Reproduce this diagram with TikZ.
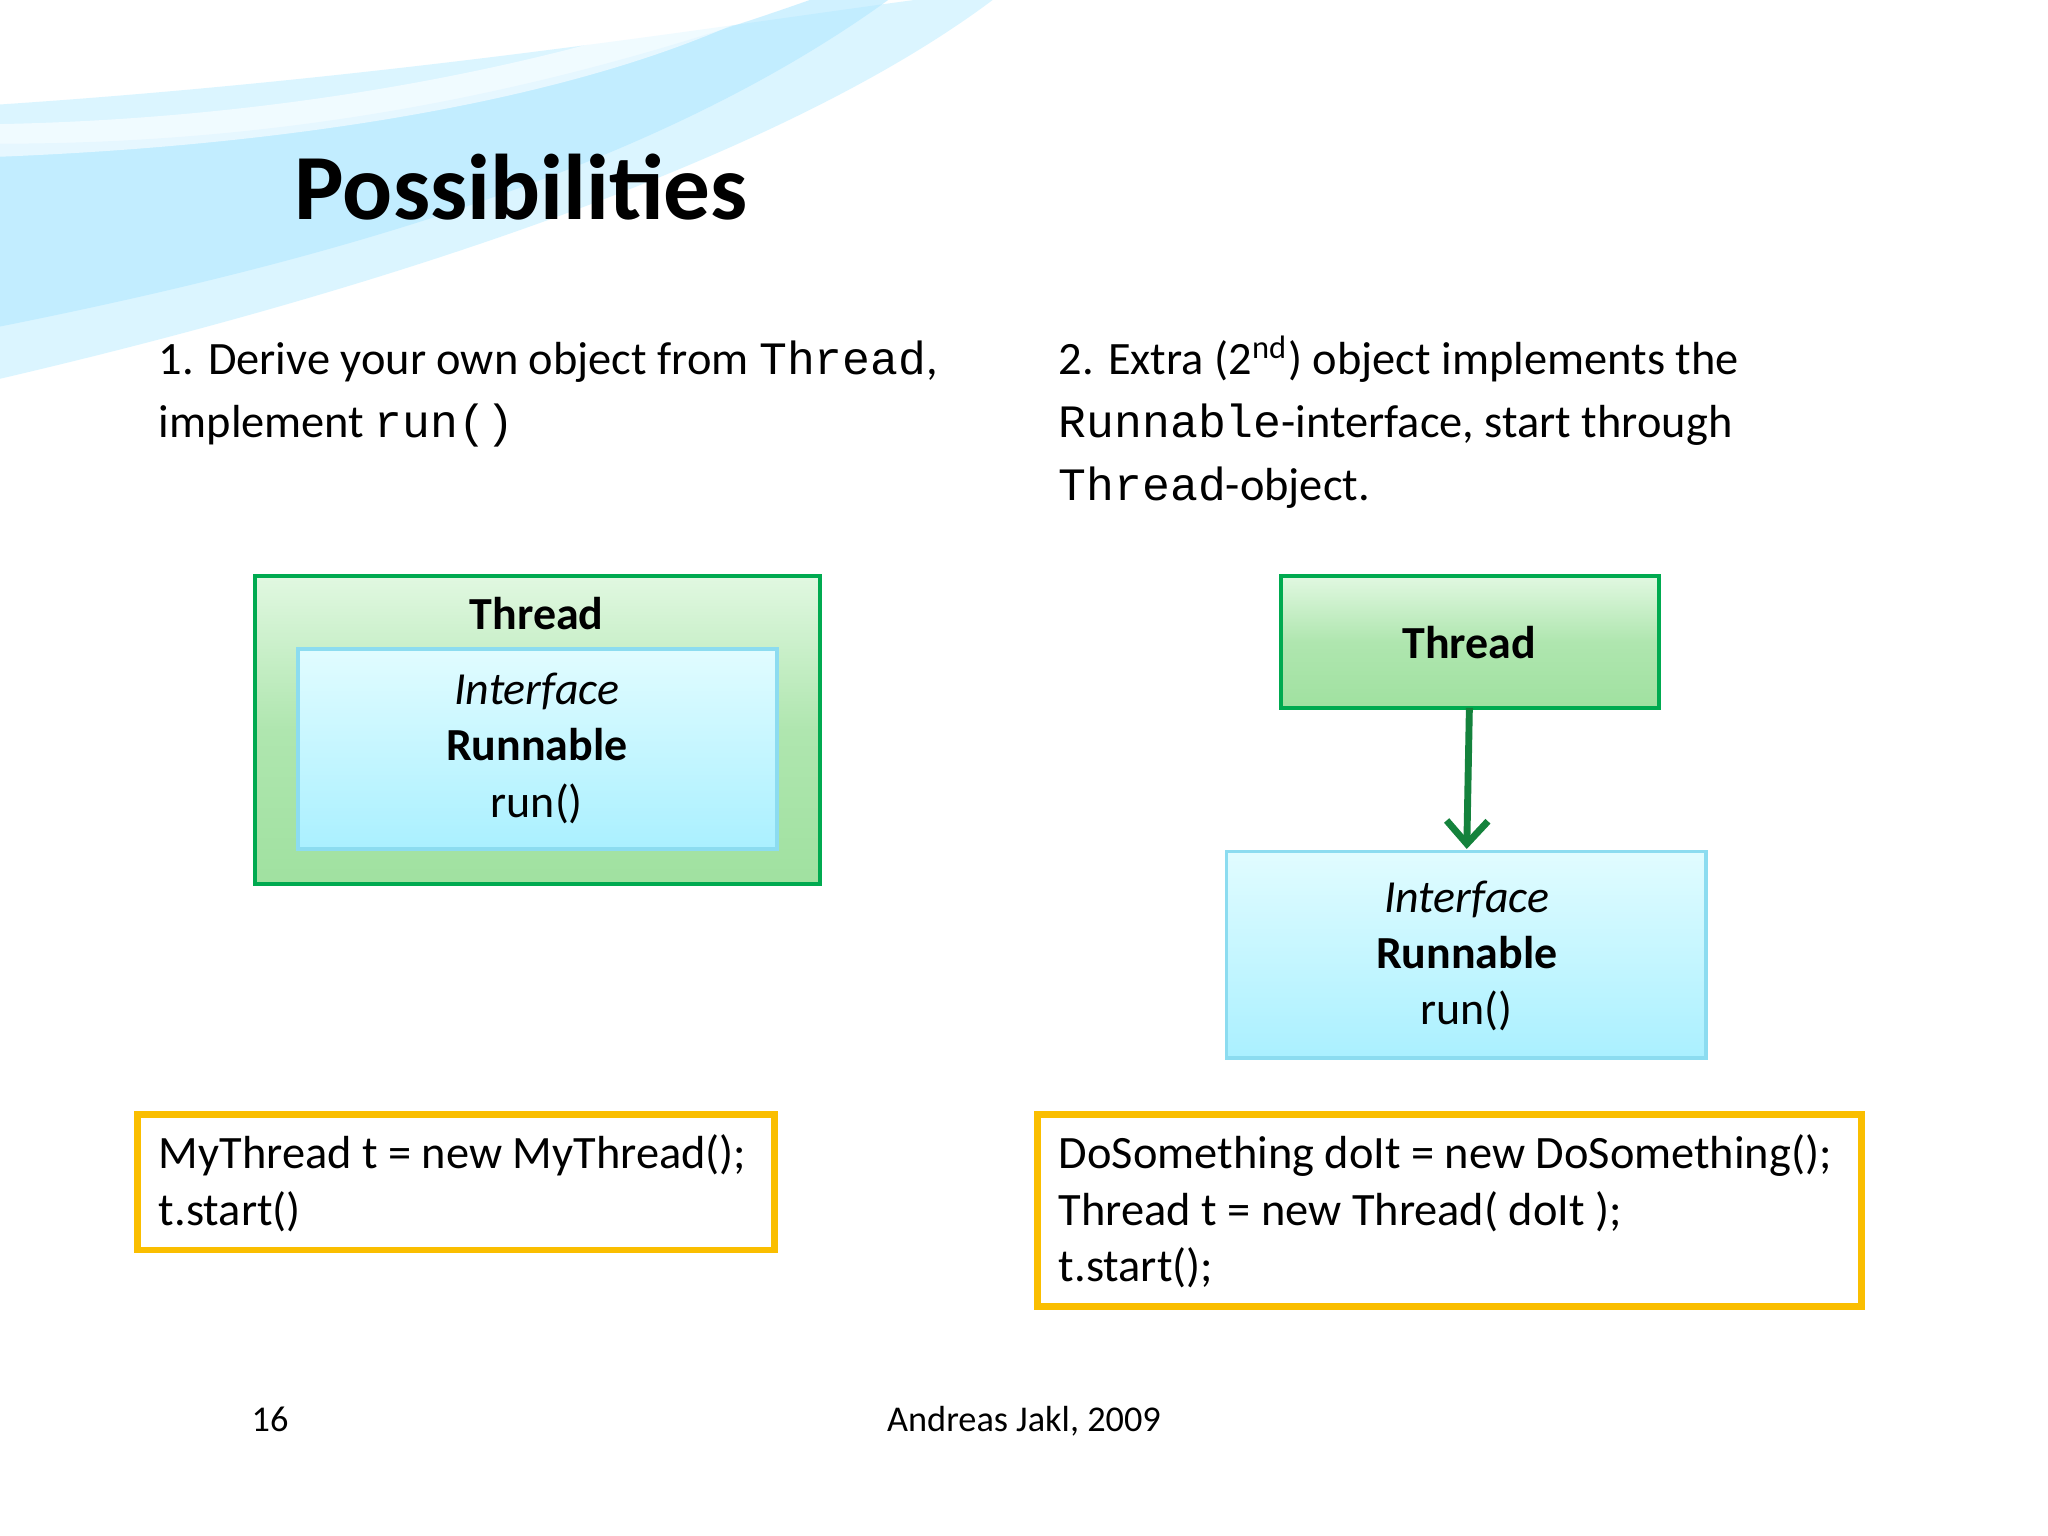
\documentclass[tikz,border=0pt]{standalone}
\usepackage{fontspec}
\setmainfont{Carlito}
\newfontfamily\cour{Liberation Mono}
\usetikzlibrary{arrows.meta}
\definecolor{ylw}{RGB}{250,190,0}
\definecolor{gline}{RGB}{0,170,80}
\definecolor{gtop}{RGB}{225,248,225}
\definecolor{gmid}{RGB}{175,230,175}
\definecolor{gbot}{RGB}{160,225,160}
\definecolor{cline}{RGB}{140,220,240}
\definecolor{ctop}{RGB}{225,252,255}
\definecolor{cbot}{RGB}{170,240,255}
\definecolor{arr}{RGB}{20,130,60}
\begin{document}
\begin{tikzpicture}[x=0.01cm,y=-0.01cm,
  body/.style={anchor=base west,inner sep=0,font=\fontsize{10.1}{12}\selectfont},
  boxtxt/.style={font=\fontsize{10}{12.2}\selectfont},
  ybox/.style={draw=ylw,line width=1.5pt},
  gbox/.style={draw=gline,line width=0.8pt,top color=gtop,bottom color=gbot,middle color=gmid},
  cbox/.style={draw=cline,line width=0.8pt,top color=ctop,bottom color=cbot}]
\useasboundingbox (0,0) rectangle (1568,1176);
\fill[white] (0,0) rectangle (1568,1176);
% swoosh
\fill[blue!25!cyan!20,opacity=0.7] (0,80) .. controls (300,60) and (550,20) .. (700,0) -- (760,0) .. controls (600,120) and (300,220) .. (0,290) -- cycle;
\fill[blue!30!cyan!30,opacity=0.6] (0,110) .. controls (250,110) and (450,60) .. (620,0) -- (680,0) .. controls (500,130) and (250,200) .. (0,250) -- cycle;
\fill[white,opacity=0.6] (0,95) .. controls (250,90) and (450,40) .. (560,0) -- (600,0) .. controls (470,70) and (250,110) .. (0,120) -- cycle;
\node[anchor=base west,inner sep=0,font=\fontsize{20.3}{24}\selectfont\bfseries] (title) at (225,168) {Possibilities};
\node[body] (l1) at (121,287) {1. Derive your own object from {\cour Thread},};
\node[body] (l2) at (121,335) {implement {\cour run()}};
\node[body] (r1) at (810,287) {2. Extra (2\textsuperscript{nd}) object implements the};
\node[body] (r2) at (810,335) {{\cour Runnable}-interface, start through};
\node[body] (r3) at (810,383) {{\cour Thread}-object.};
% left diagram
\path[gbox] (195,441) rectangle (628,677);
\node[font=\fontsize{10}{12}\selectfont\bfseries] (lth) at (411,470) {Thread};
\path[cbox] (228,497) rectangle (595,650);
\node[boxtxt,align=center] (lrun) at (411,573) {\textit{Interface}\\\textbf{Runnable}\\run()};
% right diagram
\path[gbox] (981,441) rectangle (1270,542);
\node[font=\fontsize{10}{12}\selectfont\bfseries] (rth) at (1125,492) {Thread};
\path[cbox] (939,652) rectangle (1306,810);
\node[boxtxt,align=center] (rrun) at (1123,732) {\textit{Interface}\\\textbf{Runnable}\\run()};
\coordinate (a1) at (1125,542);
\coordinate (a2) at (1123,650);
\draw[arr,line width=1.5pt,-{Straight Barb[length=5pt,width=9pt]}] (a1) -- (a2);
% code boxes
\draw[ybox] (105,853) rectangle (593,957);
\node[body] (c1) at (121,895) {MyThread t = new MyThread();};
\node[body] (c2) at (121,938) {t.start()};
\draw[ybox] (794,853) rectangle (1425,1000);
\node[body] (d1) at (810,895) {DoSomething doIt = new DoSomething();};
\node[body] (d2) at (810,938) {Thread t = new Thread( doIt );};
\node[body] (d3) at (810,981) {t.start();};
% footer
\node[anchor=base west,inner sep=0,font=\fontsize{7.9}{9}\selectfont] (pg) at (192,1096) {16};
\node[anchor=base,inner sep=0,font=\fontsize{7.9}{9}\selectfont] (au) at (784,1096) {Andreas Jakl, 2009};
\end{tikzpicture}
\end{document}
